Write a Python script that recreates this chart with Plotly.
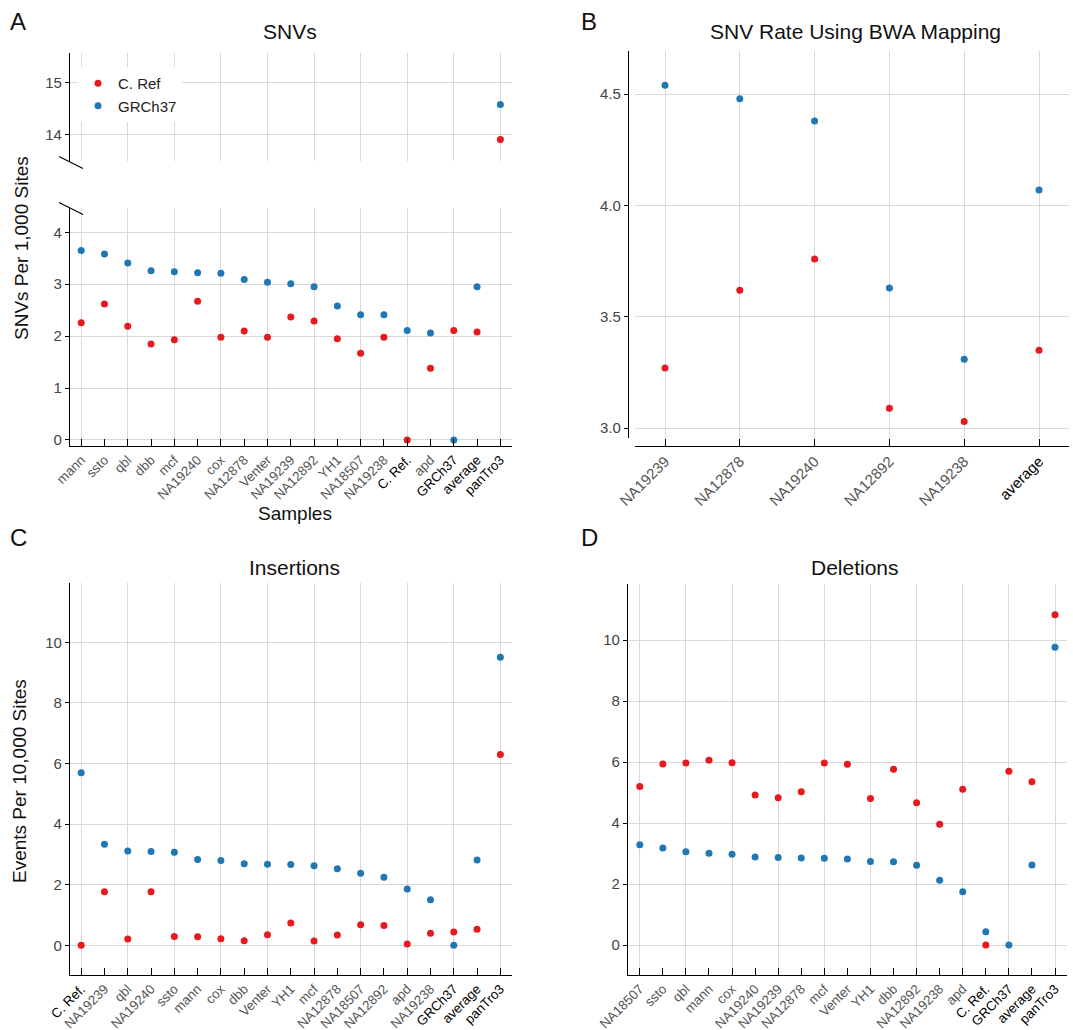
import plotly.graph_objects as go

# ---------------- data ----------------
snv_samples = ["mann", "ssto", "qbl", "dbb", "mcf", "NA19240", "cox", "NA12878", "Venter",
               "NA19239", "NA12892", "YH1", "NA18507", "NA19238", "C. Ref.", "apd",
               "GRCh37", "average", "panTro3"]
snv_cref = [2.26, 2.62, 2.19, 1.85, 1.93, 2.67, 1.98, 2.10, 1.98, 2.37, 2.29, 1.95, 1.67,
            1.98, 0.0, 1.38, 2.11, 2.08, 13.90]
snv_grch37 = [3.65, 3.58, 3.41, 3.26, 3.24, 3.22, 3.21, 3.09, 3.04, 3.01, 2.95, 2.58, 2.41,
              2.41, 2.11, 2.06, 0.0, 2.95, 14.58]

bwa_samples = ["NA19239", "NA12878", "NA19240", "NA12892", "NA19238", "average"]
bwa_cref = [3.27, 3.62, 3.76, 3.09, 3.03, 3.35]
bwa_grch37 = [4.54, 4.48, 4.38, 3.63, 3.31, 4.07]

ins_samples = ["C. Ref.", "NA19239", "qbl", "NA19240", "ssto", "mann", "cox", "dbb", "Venter",
               "YH1", "mcf", "NA12878", "NA18507", "NA12892", "apd", "NA19238", "GRCh37",
               "average", "panTro3"]
ins_cref = [0.0, 1.77, 0.21, 1.77, 0.29, 0.28, 0.22, 0.15, 0.35, 0.74, 0.14, 0.34, 0.68,
            0.65, 0.04, 0.40, 0.44, 0.53, 6.30]
ins_grch37 = [5.70, 3.34, 3.11, 3.10, 3.07, 2.83, 2.80, 2.69, 2.68, 2.67, 2.63, 2.53, 2.38,
              2.25, 1.86, 1.50, 0.0, 2.82, 9.51]

del_samples = ["NA18507", "ssto", "qbl", "mann", "cox", "NA19240", "NA19239", "NA12878", "mcf",
               "Venter", "YH1", "dbb", "NA12892", "NA19238", "apd", "C. Ref.", "GRCh37",
               "average", "panTro3"]
del_cref = [5.20, 5.94, 5.97, 6.06, 5.98, 4.92, 4.83, 5.03, 5.97, 5.93, 4.81, 5.77, 4.67,
            3.96, 5.11, 0.0, 5.70, 5.36, 10.83]
del_grch37 = [3.29, 3.18, 3.06, 3.01, 2.98, 2.89, 2.87, 2.86, 2.85, 2.82, 2.74, 2.73, 2.62,
              2.13, 1.75, 0.44, 0.0, 2.63, 9.77]

special_labels = ["C. Ref.", "GRCh37", "average", "panTro3"]

# ---------------- style ----------------
W, H = 1073, 1030
RED = "#e6191e"
BLUE = "#1f78b4"
GRID = "#d9d9d9"
FONT = "Helvetica Neue, Liberation Sans, Arial, sans-serif"


def px(x):
    return x / W


def py(y):
    return 1 - y / H


def ticktext(names):
    out = []
    for n in names:
        if n in special_labels:
            out.append('<span style="color:#000">%s</span>' % n)
        else:
            out.append(n)
    return out


fig = go.Figure()


def add_pair(names, cref, grch, xa, ya, showlegend=False):
    idx = list(range(len(names)))
    fig.add_trace(go.Scatter(x=idx, y=cref, mode="markers", name="C. Ref",
                             marker=dict(color=RED, size=7), xaxis=xa, yaxis=ya,
                             showlegend=showlegend, legendgroup="cref", hovertext=names))
    fig.add_trace(go.Scatter(x=idx, y=grch, mode="markers", name="GRCh37",
                             marker=dict(color=BLUE, size=7), xaxis=xa, yaxis=ya,
                             showlegend=showlegend, legendgroup="grch", hovertext=names))


# Panel A (broken axis: bottom x/y, top x2/y2)
add_pair(snv_samples, snv_cref, snv_grch37, "x", "y", showlegend=True)
add_pair(snv_samples, snv_cref, snv_grch37, "x2", "y2")
# Panel B
add_pair(bwa_samples, bwa_cref, bwa_grch37, "x3", "y3")
# Panel C
add_pair(ins_samples, ins_cref, ins_grch37, "x4", "y4")
# Panel D
add_pair(del_samples, del_cref, del_grch37, "x5", "y5")


def xcat(names, domain, rng, anchor, every_other=True, fontsize=13.3, show=True, line=True):
    d = dict(
        domain=[px(domain[0]), px(domain[1])], range=rng, anchor=anchor,
        tickmode="array", tickvals=list(range(len(names))), ticktext=ticktext(names),
        tickangle=-45, tickfont=dict(size=fontsize, color="#555", family=FONT),
        ticks="inside" if show else "", ticklen=7, tickcolor="#000", tickwidth=1,
        showticklabels=show, showline=line, linecolor="#000", linewidth=1.2,
        zeroline=False, fixedrange=True, automargin=False,
    )
    if every_other:
        d["showgrid"] = False
        d["minor"] = dict(tickmode="linear", tick0=0, dtick=2, showgrid=True,
                          gridcolor=GRID, gridwidth=1, ticks="")
    else:
        d["showgrid"] = True
        d["gridcolor"] = GRID
        d["gridwidth"] = 1
    return d


def ylin(domain_px, rng, tickvals, anchor, fmt=None):
    d = dict(
        domain=[py(domain_px[1]), py(domain_px[0])], range=rng, anchor=anchor,
        tickmode="array", tickvals=tickvals,
        tickfont=dict(size=15, color="#444", family=FONT),
        ticks="outside", ticklen=4, tickcolor="#000", tickwidth=1,
        showline=True, linecolor="#000", linewidth=1.2,
        showgrid=True, gridcolor=GRID, gridwidth=1, zeroline=False, fixedrange=True,
        automargin=False,
    )
    if fmt:
        d["ticktext"] = [fmt % v for v in tickvals]
    return d


# Panel A axes
fig.update_layout(
    xaxis=xcat(snv_samples, (70, 512), [-0.48, 18.5], "y"),
    yaxis=ylin((208, 446), [-0.116, 4.468], [0, 1, 2, 3, 4], "x"),
    xaxis2=xcat(snv_samples, (70, 512), [-0.48, 18.5], "y2", show=False, line=False),
    yaxis2=ylin((53, 161), [13.483, 15.576], [14, 15], "x2"),
    # Panel B axes (offset axes)
    xaxis3=dict(xcat(bwa_samples, (635, 1069), [-0.401, 5.401], "free",
                     every_other=False, fontsize=15), position=py(445.7)),
    yaxis3=dict(ylin((51, 438), [2.956, 4.694], [3.0, 3.5, 4.0, 4.5], "free", fmt="%.1f"),
                position=px(628)),
    # Panel C axes
    xaxis4=xcat(ins_samples, (70, 512), [-0.48, 18.5], "y4"),
    yaxis4=ylin((583, 975), [-0.98, 11.96], [0, 2, 4, 6, 8, 10], "x4"),
    # Panel D axes
    xaxis5=xcat(del_samples, (628, 1067), [-0.51, 18.52], "y5"),
    yaxis5=ylin((584, 975), [-0.98, 11.84], [0, 2, 4, 6, 8, 10], "x5"),
)

# break marks for panel A
shapes = []
for (x0, y0, x1, y1) in [(59, 156.5, 83, 168.5), (59, 202.5, 83, 214.5)]:
    shapes.append(dict(type="line", xref="paper", yref="paper",
                       x0=px(x0), y0=py(y0), x1=px(x1), y1=py(y1),
                       line=dict(color="#000", width=1.2)))

annotations = []


def ann(text, x, y, size, angle=0, color="#111"):
    annotations.append(dict(text=text, x=px(x), y=py(y), xref="paper", yref="paper",
                            showarrow=False, xanchor="center", yanchor="middle",
                            textangle=angle, font=dict(size=size, color=color, family=FONT)))


ann("A", 18, 22, 24)
ann("B", 589, 22, 24)
ann("C", 18, 537, 24)
ann("D", 589, 537, 24)
ann("SNVs", 290, 32, 21)
ann("SNV Rate Using BWA Mapping", 855, 32, 21)
ann("Insertions", 294, 567, 21)
ann("Deletions", 855, 567, 21)
ann("SNVs Per 1,000 Sites", 21, 248, 19, angle=-90)
ann("Events Per 10,000 Sites", 19, 781, 19, angle=-90)
ann("Samples", 295, 513, 19)

fig.update_layout(
    width=W, height=H, autosize=False,
    margin=dict(l=0, r=0, t=0, b=0, pad=0),
    paper_bgcolor="white", plot_bgcolor="white",
    font=dict(family=FONT, color="#333"),
    shapes=shapes, annotations=annotations,
    legend=dict(x=px(78), y=py(67), xanchor="left", yanchor="top",
                bgcolor="white", font=dict(size=15, color="#222", family=FONT),
                itemwidth=30, tracegroupgap=0),
    showlegend=True,
)

fig.write_html("out.html")
